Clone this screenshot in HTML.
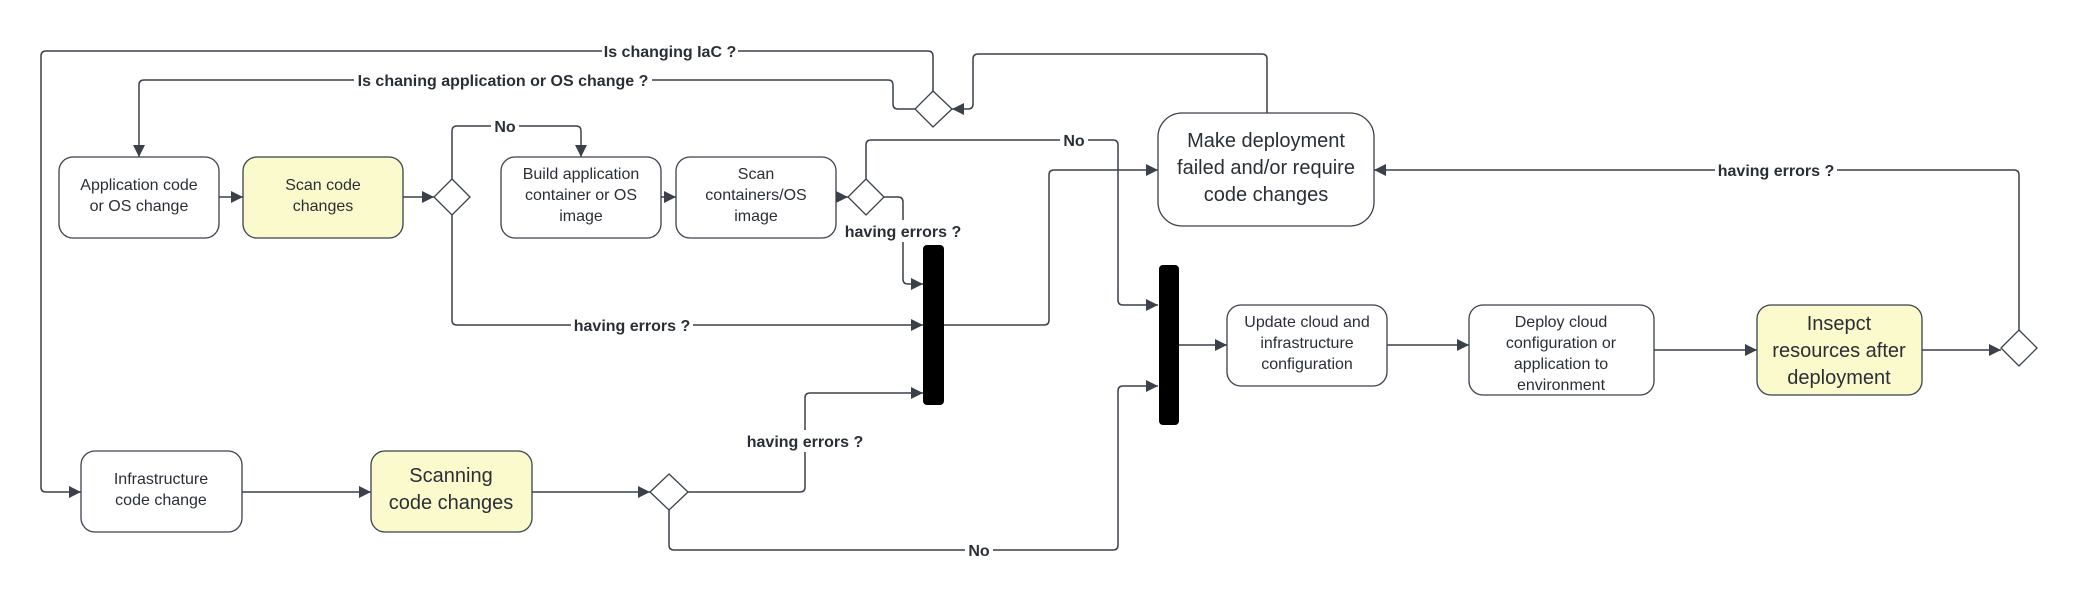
<!DOCTYPE html>
<html><head><meta charset="utf-8"><style>
html,body{margin:0;padding:0;background:#fff;}
svg{display:block;}
text{font-family:"Liberation Sans",sans-serif;fill:#2a2f36;}
.n{font-size:16px;}
.b{font-size:20px;fill:#3a4049;}
.l{font-size:16px;font-weight:bold;}
</style></head><body>
<svg width="2076" height="597" viewBox="0 0 2076 597" xmlns="http://www.w3.org/2000/svg">
<defs>
<marker id="a" viewBox="0 0 10 10" refX="10" refY="5" markerWidth="12" markerHeight="12" markerUnits="userSpaceOnUse" orient="auto">
<path d="M0,0 L10,5 L0,10 z" fill="#3a414a"/></marker>
</defs>
<g fill="none" stroke="#3a414a" stroke-width="1.5" marker-end="url(#a)">
<path d="M933,91 V56 Q933,51 928,51 H46 Q41,51 41,56 V487 Q41,492 46,492 H81"/>
<path d="M915,109 H898 Q893,109 893,104 V85 Q893,80 888,80 H144 Q139,80 139,85 V157"/>
<path d="M1267,113 V59 Q1267,54 1262,54 H978 Q973,54 973,59 V104 Q973,109 968,109 H952"/>
<path d="M219,197 H243"/>
<path d="M403,197 H434"/>
<path d="M661,197 H676"/>
<path d="M836,197 H848"/>
<path d="M452,179 V131 Q452,126 457,126 H576 Q581,126 581,131 V157"/>
<path d="M452,215 V320 Q452,325 457,325 H923"/>
<path d="M884,197 H898 Q903,197 903,202 V279 Q903,284 908,284 H923"/>
<path d="M866,179 V145 Q866,140 871,140 H1113 Q1118,140 1118,145 V300 Q1118,305 1123,305 H1158"/>
<path d="M944,325 H1044 Q1049,325 1049,320 V175 Q1049,170 1054,170 H1158"/>
<path d="M1179,345 H1227"/>
<path d="M1387,345 H1469"/>
<path d="M1654,350 H1757"/>
<path d="M1922,350 H2001"/>
<path d="M2019,330 V175 Q2019,170 2014,170 H1374"/>
<path d="M242,492 H371"/>
<path d="M532,492 H650"/>
<path d="M688,492 H800 Q805,492 805,487 V398 Q805,393 810,393 H923"/>
<path d="M669,510 V545 Q669,550 674,550 H1113 Q1118,550 1118,545 V391 Q1118,386 1123,386 H1158"/>
</g>
<g stroke="#3a414a" stroke-width="1.3">
<rect x="59" y="157" width="160" height="81" rx="14" fill="#fff"/>
<rect x="243" y="157" width="160" height="81" rx="14" fill="#fafacc"/>
<rect x="501" y="157" width="160" height="81" rx="14" fill="#fff"/>
<rect x="676" y="157" width="160" height="81" rx="14" fill="#fff"/>
<rect x="1158" y="113" width="216" height="113" rx="24" fill="#fff"/>
<rect x="1227" y="305" width="160" height="81" rx="14" fill="#fff"/>
<rect x="1469" y="305" width="185" height="90" rx="14" fill="#fff"/>
<rect x="1757" y="305" width="165" height="90" rx="14" fill="#fafacc"/>
<rect x="81" y="451" width="161" height="81" rx="14" fill="#fff"/>
<rect x="371" y="451" width="161" height="81" rx="14" fill="#fafacc"/>
<path d="M933,91 L952,109 L933,127 L915,109 Z" fill="#fff"/>
<path d="M452,179 L470,197 L452,215 L434,197 Z" fill="#fff"/>
<path d="M866,179 L884,197 L866,215 L848,197 Z" fill="#fff"/>
<path d="M2019,330 L2037,348 L2019,366 L2001,348 Z" fill="#fff"/>
<path d="M669,474 L688,492 L669,510 L650,492 Z" fill="#fff"/>
</g>
<rect x="923" y="245" width="21" height="160" rx="4" fill="#000"/>
<rect x="1159" y="265" width="20" height="160" rx="4" fill="#000"/>
<g fill="#fff">
<rect x="602" y="40" width="136" height="22"/>
<rect x="354" y="69" width="298" height="22"/>
<rect x="491" y="115" width="28" height="22"/>
<rect x="571" y="314" width="122" height="22"/>
<rect x="842" y="220" width="122" height="22"/>
<rect x="1060" y="129" width="28" height="22"/>
<rect x="1715" y="159" width="122" height="22"/>
<rect x="744" y="430" width="122" height="22"/>
<rect x="965" y="539" width="28" height="22"/>
</g>
<g class="l" text-anchor="middle">
<text x="670" y="57">Is changing IaC ?</text>
<text x="503" y="86">Is chaning application or OS change ?</text>
<text x="505" y="132">No</text>
<text x="632" y="331">having errors ?</text>
<text x="903" y="237">having errors ?</text>
<text x="1074" y="146">No</text>
<text x="1776" y="176">having errors ?</text>
<text x="805" y="447">having errors ?</text>
<text x="979" y="556">No</text>
</g>
<g class="n" text-anchor="middle">
<text x="139" y="190">Application code</text><text x="139" y="211">or OS change</text>
<text x="323" y="190">Scan code</text><text x="323" y="211">changes</text>
<text x="581" y="179">Build application</text><text x="581" y="200">container or OS</text><text x="581" y="221">image</text>
<text x="756" y="179">Scan</text><text x="756" y="200">containers/OS</text><text x="756" y="221">image</text>
<text x="1307" y="327">Update cloud and</text><text x="1307" y="348">infrastructure</text><text x="1307" y="369">configuration</text>
<text x="1561" y="327">Deploy cloud</text><text x="1561" y="348">configuration or</text><text x="1561" y="369">application to</text><text x="1561" y="390">environment</text>
<text x="161" y="484">Infrastructure</text><text x="161" y="505">code change</text>
</g>
<g class="b" text-anchor="middle">
<text x="1266" y="147">Make deployment</text><text x="1266" y="174">failed and/or require</text><text x="1266" y="201">code changes</text>
<text x="1839" y="330">Insepct</text><text x="1839" y="357">resources after</text><text x="1839" y="384">deployment</text>
<text x="451" y="482">Scanning</text><text x="451" y="509">code changes</text>
</g>
</svg>
</body></html>
